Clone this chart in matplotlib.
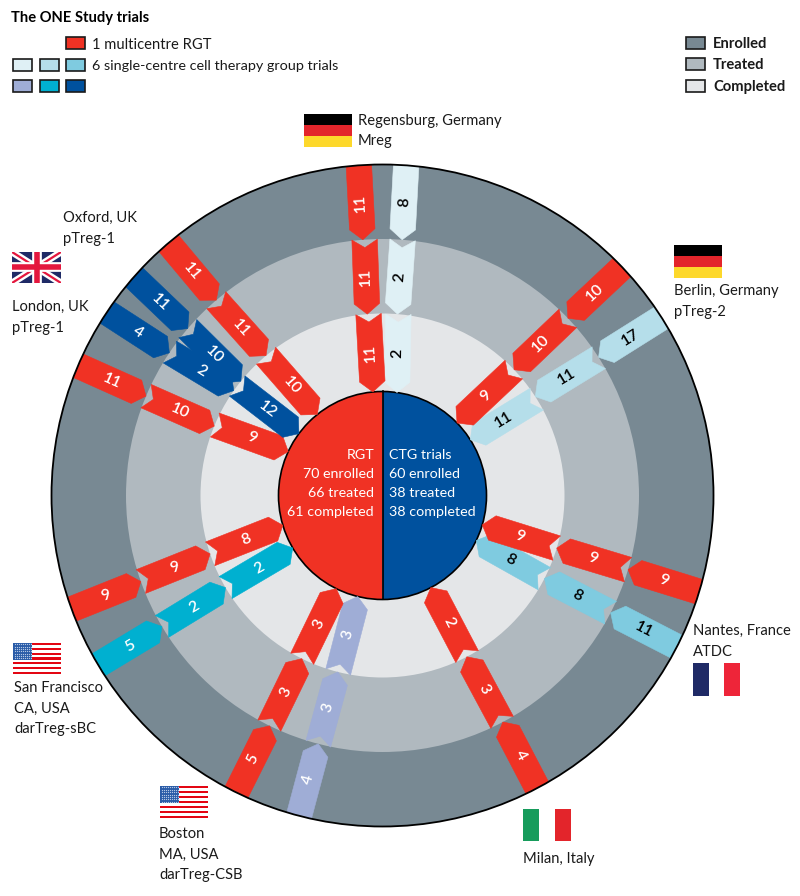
# -*- coding: utf-8 -*-
import math

import matplotlib
matplotlib.use('Agg')
import matplotlib.pyplot as plt
from matplotlib.patches import Circle, Polygon, Rectangle, Wedge
import numpy as np

plt.rcParams['font.family'] = ['Lato', 'DejaVu Sans']

# Participants per trial: enrolled, treated, completed
regensburg_rgt = [11, 11, 11]
regensburg_ctg = [8, 2, 2]
berlin_rgt = [10, 10, 9]
berlin_ctg = [17, 11, 11]
nantes_rgt = [9, 9, 9]
nantes_ctg = [11, 8, 8]
milan_rgt = [4, 3, 2]
boston_rgt = [5, 3, 3]
boston_ctg = [4, 3, 3]
sanfrancisco_rgt = [9, 9, 8]
sanfrancisco_ctg = [5, 2, 2]
london_rgt = [11, 10, 9]
london_ctg = [4, 2]
oxford_rgt = [11, 11, 10]
oxford_ctg = [11, 10, 12]

rgt_summary = ['RGT', '70 enrolled', '66 treated', '61 completed']
ctg_summary = ['CTG trials', '60 enrolled', '38 treated', '38 completed']

# Colours
RED = '#F03224'
NAVY = '#00519E'
TEAL = '#00B0D0'
PERI = '#9FADD6'
PALE = '#DFF0F5'
LIGHT = '#B5DEEA'
SKY = '#7FCBE0'
ENROLLED = '#788993'
TREATED = '#B0B9BF'
COMPLETED = '#E4E6E8'

# Layout, pixels of the 800x896 figure
CX, CY = 382.5, 495.5
RADII = [331, 256.5, 182, 104]
ARROW_W = 25.5
HEAD = 10.5
NOTCH = 8

# values, colour, text colour, tail angles, tip angles (deg clockwise from top)
arrows = [
    (regensburg_ctg, PALE, 'black', [4.1, 4.5, 5.0], [4.4, 4.7, 8.0]),
    (regensburg_rgt, RED, 'white', [-4.1, -4.0, -4.4], [-4.4, -4.8, -5.3]),
    (berlin_ctg, LIGHT, 'black', [57.5, 57.5, 58.0], [57.4, 57.1, 57.6]),
    (berlin_rgt, RED, 'white', [46.4, 46.3, 46.2], [46.3, 46.3, 45.8]),
    (nantes_ctg, SKY, 'black', [117.2, 117.2, 117.2], [117.2, 117.1, 115.6]),
    (nantes_rgt, RED, 'white', [106.9, 106.8, 106.8], [106.8, 106.8, 106.4]),
    (milan_rgt, RED, 'white', [152.1, 152.2, 152.3], [152.0, 152.4, 152.3]),
    (boston_ctg, PERI, 'white', [194.6, 194.5, 194.1], [194.5, 194.2, 193.8]),
    (boston_rgt, RED, 'white', [206.2, 206.2, 206.2], [206.1, 206.3, 206.4]),
    (sanfrancisco_ctg, TEAL, 'white', [-120.8, -120.7, -120.4], [-120.7, -120.4, -120.3]),
    (sanfrancisco_rgt, RED, 'white', [-110.1, -109.6, -108.7], [-109.6, -108.7, -106.6]),
    (london_rgt, RED, 'white', [-66.9, -67.2, -67.2], [-67.2, -67.6, -65.0]),
    (oxford_rgt, RED, 'white', [-40.3, -40.4, -39.8], [-40.4, -39.8, -38.8]),
    (oxford_ctg, NAVY, 'white', [-48.7, -49.4, -53.0], [-49.4, -51.1, -53.5]),
    (london_ctg, NAVY, 'white', [-56.4, -56.0], [-56.2, -54.8]),
]

FONT = 10.6


def polar(theta, r):
    t = math.radians(theta)
    return np.array([CX + r * math.sin(t), CY - r * math.cos(t)])


def draw_arrow(ax, ring, value, color, text_color, tail_angle, tip_angle, clip):
    tail = polar(tail_angle, RADII[ring])
    tip = polar(tip_angle, RADII[ring + 1])
    d = (tip - tail) / np.linalg.norm(tip - tail)
    n = np.array([-d[1], d[0]]) * ARROW_W / 2

    if ring == 0:
        # cut off by the outer circle
        start = tail - d * 8
        pts = [start + n, tip - d * HEAD + n, tip, tip - d * HEAD - n, start - n]
    else:
        pts = [tail + n, tip - d * HEAD + n, tip, tip - d * HEAD - n, tail - n, tail + d * NOTCH]
    poly = Polygon(pts, closed=True, facecolor=color, edgecolor=color, linewidth=0.4, zorder=3)
    ax.add_patch(poly)
    if ring == 0:
        poly.set_clip_path(clip)

    # rotate along the arrow, keep it readable
    angle = math.degrees(math.atan2(-d[1], d[0]))
    while angle > 95:
        angle -= 180
    while angle <= -85:
        angle += 180
    mid = (tail + tip) / 2
    ax.text(mid[0], mid[1], str(value), color=text_color, fontsize=11.5, fontweight='semibold',
            rotation=angle, rotation_mode='anchor', ha='center', va='center', zorder=5)


def flag_bars(ax, x0, y0, x1, y1, colors, vertical=False):
    n = len(colors)
    for i, c in enumerate(colors):
        if vertical:
            w = (x1 - x0) / n
            ax.add_patch(Rectangle((x0 + i * w, y0), w, y1 - y0, facecolor=c, edgecolor='none', zorder=2))
        else:
            h = (y1 - y0) / n
            ax.add_patch(Rectangle((x0, y0 + i * h), x1 - x0, h, facecolor=c, edgecolor='none', zorder=2))


def flag_usa(ax, x0, y0, x1, y1):
    stripes = ['#E30613', 'white'] * 6 + ['#E30613']
    flag_bars(ax, x0, y0, x1, y1, stripes)
    w = (x1 - x0) * 0.4
    h = (y1 - y0) * 7 / 13
    ax.add_patch(Rectangle((x0, y0), w, h, facecolor='#2A5CA8', edgecolor='none', zorder=2))
    xs, ys = np.meshgrid(np.linspace(x0 + 1.5, x0 + w - 1.5, 9), np.linspace(y0 + 1.5, y0 + h - 1.5, 7))
    ax.scatter(xs.ravel(), ys.ravel(), s=0.8, color='#B9CBE6', linewidths=0, zorder=3)


def flag_uk(ax, x0, y0, x1, y1):
    bg = ax.add_patch(Rectangle((x0, y0), x1 - x0, y1 - y0, facecolor='#1F2A66', edgecolor='none', zorder=2))
    xm, ym = (x0 + x1) / 2, (y0 + y1) / 2
    for xs, ys, c, lw in [
        ([x0, x1], [y0, y1], 'white', 5),
        ([x0, x1], [y1, y0], 'white', 5),
        ([x0, x1], [y0, y1], '#E4173E', 1.6),
        ([x0, x1], [y1, y0], '#E4173E', 1.6),
        ([x0, x1], [ym, ym], 'white', 7),
        ([xm, xm], [y0, y1], 'white', 7),
        ([x0, x1], [ym, ym], '#E4173E', 4),
        ([xm, xm], [y0, y1], '#E4173E', 4),
    ]:
        line, = ax.plot(xs, ys, color=c, linewidth=lw, solid_capstyle='butt', zorder=2.5)
        line.set_clip_path(bg)


def swatch(ax, x0, y0, x1, y1, color):
    ax.add_patch(Rectangle((x0, y0), x1 - x0, y1 - y0, facecolor=color, edgecolor='#1a1a1a', linewidth=1.2, zorder=2))


def label(ax, x, y, text, **kw):
    kw.setdefault('fontsize', FONT)
    kw.setdefault('color', '#1a1a1a')
    ax.text(x, y, text, ha=kw.pop('ha', 'left'), va='center', zorder=6, **kw)


def main():
    fig = plt.figure(figsize=(8, 8.96), dpi=100)
    ax = fig.add_axes([0, 0, 1, 1])
    ax.set_xlim(0, 800)
    ax.set_ylim(896, 0)
    ax.axis('off')

    # Rings
    outer = Circle((CX, CY), RADII[0], facecolor=ENROLLED, edgecolor='none', zorder=1)
    ax.add_patch(outer)
    ax.add_patch(Circle((CX, CY), RADII[1], facecolor=TREATED, edgecolor='none', zorder=1))
    ax.add_patch(Circle((CX, CY), RADII[2], facecolor=COMPLETED, edgecolor='none', zorder=1))
    ax.add_patch(Circle((CX, CY), RADII[0], facecolor='none', edgecolor='black', linewidth=1.3, zorder=4))

    # Centre circle
    ax.add_patch(Wedge((CX, CY), RADII[3], 90, 270, facecolor=RED, edgecolor='none', zorder=2))
    ax.add_patch(Wedge((CX, CY), RADII[3], -90, 90, facecolor=NAVY, edgecolor='none', zorder=2))
    ax.add_patch(Circle((CX, CY), RADII[3], facecolor='none', edgecolor='black', linewidth=1.2, zorder=2.5))
    ax.plot([CX, CX], [CY - RADII[3], CY + RADII[3]], color='black', linewidth=1.2, zorder=2.5)

    for values, color, text_color, tails, tips in arrows:
        for ring, value in enumerate(values):
            draw_arrow(ax, ring, value, color, text_color, tails[ring], tips[ring], outer)

    for i, (left, right) in enumerate(zip(rgt_summary, ctg_summary)):
        y = 455 + i * 19
        label(ax, 374, y, left, ha='right', color='white', fontsize=10.3)
        label(ax, 389, y, right, color='white', fontsize=10.3)

    # Legends
    label(ax, 11, 18, 'The ONE Study trials', fontweight='bold', fontsize=10.6, color='black')
    swatch(ax, 66, 37, 85, 49, RED)
    for x0, c1, c2 in [(13, PALE, PERI), (39.5, LIGHT, TEAL), (66, SKY, NAVY)]:
        swatch(ax, x0, 59, x0 + 19, 71, c1)
        swatch(ax, x0, 80, x0 + 19, 92, c2)
    label(ax, 92, 45, '1 multicentre RGT')
    label(ax, 92, 66, '6 single-centre cell therapy group trials', fontsize=10.35)

    for y0, c, name in [(37, ENROLLED, 'Enrolled'), (58.5, TREATED, 'Treated'), (80, COMPLETED, 'Completed')]:
        swatch(ax, 686, y0, 705, y0 + 12, c)
        label(ax, 713, y0 + 6.5, name, fontweight='bold')

    # Site labels
    label(ax, 358, 121, 'Regensburg, Germany')
    label(ax, 358, 141, 'Mreg')
    label(ax, 674, 291, 'Berlin, Germany')
    label(ax, 674, 312, 'pTreg-2')
    label(ax, 63, 218, 'Oxford, UK')
    label(ax, 63, 239, 'pTreg-1')
    label(ax, 12, 307, 'London, UK')
    label(ax, 12, 328, 'pTreg-1')
    label(ax, 14, 688, 'San Francisco')
    label(ax, 14, 709, 'CA, USA')
    label(ax, 14, 729, 'darTreg-sBC')
    label(ax, 159, 834, 'Boston')
    label(ax, 159, 855, 'MA, USA')
    label(ax, 159, 875, 'darTreg-CSB')
    label(ax, 693, 631, 'Nantes, France')
    label(ax, 693, 652, 'ATDC')
    label(ax, 523, 859, 'Milan, Italy')

    # Flags
    germany = ['black', '#E3252B', '#FDD82B']
    flag_bars(ax, 304, 114, 352, 147, germany)
    flag_bars(ax, 674, 245, 722, 278, germany)
    flag_uk(ax, 12, 252, 61, 283)
    flag_usa(ax, 13, 643, 61, 674)
    flag_usa(ax, 160, 786, 208, 818)
    flag_bars(ax, 693, 663, 740, 696, ['#1F2A66', 'white', '#EE2539'], vertical=True)
    flag_bars(ax, 523, 809, 571, 841, ['#179C5C', 'white', '#E3252B'], vertical=True)

    fig.savefig('out.png', dpi=100)


if __name__ == "__main__":
    main()
